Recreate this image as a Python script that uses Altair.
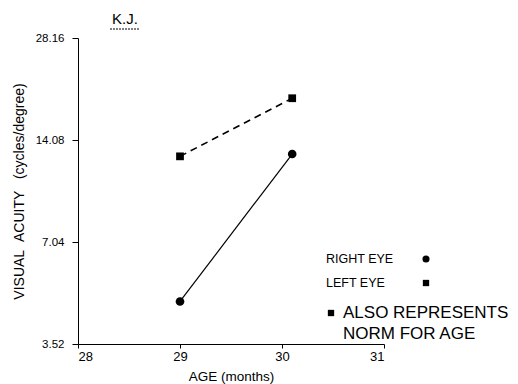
import altair as alt
import pandas as pd

# data
months = [29.0, 30.1]
right_eye = [4.7, 12.8]
left_eye = [12.6, 18.7]
y_ticks = [3.52, 7.04, 14.08, 28.16]
x_ticks = [28, 29, 30, 31]

df = pd.DataFrame({
    "age": months * 2,
    "acuity": right_eye + left_eye,
    "eye": ["RIGHT"] * 2 + ["LEFT"] * 2,
})

FONT = "Liberation Sans"
NB = "\u00a0"

xs = alt.Scale(domain=[28, 31], nice=False)
ys = alt.Scale(type="log", base=2, domain=[3.52, 28.16], nice=False)

xenc = alt.X("age:Q", scale=xs, axis=alt.Axis(
    values=x_ticks, format="d", title="AGE (months)", grid=False,
    domainColor="black", tickColor="black", labelColor="black",
    labelFont=FONT, labelFontSize=13, titleFont=FONT, titleFontSize=13.5,
    titleFontWeight="normal", titleColor="black", tickSize=4, titlePadding=6,
    labelPadding=2))
yenc = alt.Y("acuity:Q", scale=ys, axis=alt.Axis(
    values=y_ticks, format=".2f",
    title="VISUAL" + NB * 2 + "ACUITY" + NB * 3 + "(cycles/degree)",
    grid=False, domainColor="black", tickColor="black", labelColor="black",
    labelFont=FONT, labelFontSize=11.5, titleFont=FONT, titleFontSize=14,
    titleFontWeight="normal", titleColor="black", tickSize=6, titlePadding=9,
    labelPadding=8))

right = df[df.eye == "RIGHT"]
left = df[df.eye == "LEFT"]

r_line = alt.Chart(right).mark_line(color="black", strokeWidth=1.2).encode(x=xenc, y=yenc)
r_pts = alt.Chart(right).mark_point(shape="circle", filled=True, color="black", size=75, opacity=1).encode(x=xenc, y=yenc)
l_line = alt.Chart(left).mark_line(color="black", strokeWidth=1.6, strokeDash=[7, 5]).encode(x=xenc, y=yenc)
l_pts = alt.Chart(left).mark_point(shape="square", filled=True, color="black", size=60, opacity=1).encode(x=xenc, y=yenc)

ann = pd.DataFrame({
    "label": ["RIGHT EYE", "LEFT EYE", "ALSO REPRESENTS", "NORM FOR AGE"],
    "px": [248, 248, 265, 265],
    "py": [221, 245, 275, 296],
    "fs": [12.5, 12.5, 17, 17],
})
texts = []
for _, r in ann.iterrows():
    texts.append(alt.Chart(pd.DataFrame({"t": [r.label]})).mark_text(
        align="left", baseline="middle", font=FONT, fontSize=float(r.fs),
        color="black").encode(
        text="t:N", x=alt.value(int(r.px)), y=alt.value(int(r.py))))

sym_df = pd.DataFrame({"s": ["circle", "square", "square"],
                       "px": [348, 348, 253], "py": [221, 245, 275]})
syms = []
for _, r in sym_df.iterrows():
    syms.append(alt.Chart(pd.DataFrame({"v": [1]})).mark_point(
        shape=r.s, filled=True, color="black", size=50 if r.s == "circle" else 40, opacity=1).encode(
        x=alt.value(int(r.px)), y=alt.value(int(r.py))))

title = alt.Chart(pd.DataFrame({"t": ["K.J."]})).mark_text(
    align="center", baseline="middle", font=FONT, fontSize=15, color="black").encode(
    text="t:N", x=alt.value(47), y=alt.value(-19))
underline = alt.Chart(pd.DataFrame({"v": [1]})).mark_rule(
    color="black", strokeWidth=1, strokeDash=[2, 1]).encode(
    x=alt.value(32), x2=alt.value(62), y=alt.value(-9))

chart = alt.layer(l_line, r_line, l_pts, r_pts, title, underline, *texts, *syms).properties(
    width=306, height=306,
    background="white",
    autosize=alt.AutoSizeParams(type="none"),
    padding={"left": 70, "top": 30, "right": 126, "bottom": 46},
).configure_view(stroke=None)

chart.save("out.html", embed_options={"renderer": "svg", "actions": False})
